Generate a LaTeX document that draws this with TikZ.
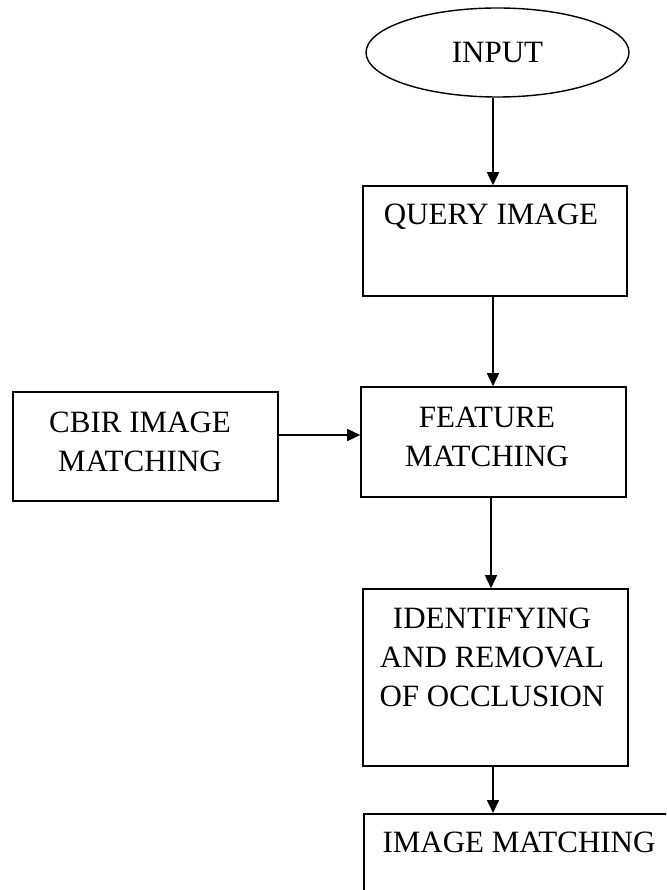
\documentclass[tikz,border=0pt]{standalone}
\usepackage{fontspec}
\setmainfont{Liberation Serif}
\usetikzlibrary{shapes.geometric,arrows.meta}

\tikzset{
  box/.style={draw, line width=1.6pt, rectangle, inner sep=0pt},
  oval/.style={draw, line width=1.4pt, ellipse, inner sep=0pt,
    minimum width=263pt, minimum height=89pt,
    font=\fontsize{31}{39}\selectfont},
  lbl/.style={inner sep=0pt, anchor=base,
    font=\fontsize{31}{39}\selectfont},
  arr/.style={line width=1.6pt, -{Triangle[width=12pt,length=13pt]}}
}

\newcommand{\lines}[1]{\setlength{\tabcolsep}{0pt}\begin{tabular}[t]{c}#1\end{tabular}}

\begin{document}
\begin{tikzpicture}[x=1pt,y=-1pt]
  \useasboundingbox (0,0) rectangle (666,890);
  \clip (0,0) rectangle (666,890);
  \fill[white] (0,0) rectangle (666,890);

  % flow of boxes
  \node[oval] (input) at (497.5,52.5) {INPUT};
  \node[box, minimum width=264pt, minimum height=110pt] (query) at (495,241) {};
  \node[box, minimum width=265pt, minimum height=110pt] (feature) at (493.5,442) {};
  \node[box, minimum width=265pt, minimum height=109pt] (cbir) at (145.5,446.5) {};
  \node[box, minimum width=265pt, minimum height=177pt] (ident) at (495.5,677.5) {};
  \node[box, anchor=north west, minimum width=330pt, minimum height=130pt] (imgmatch) at (363,813) {};

  % box captions
  \node[lbl] (querytxt) at (491,225) {\lines{QUERY IMAGE}};
  \node[lbl] (featuretxt) at (487,427) {\lines{FEATURE\\MATCHING}};
  \node[lbl] (cbirtxt) at (140,432) {\lines{CBIR IMAGE\\MATCHING}};
  \node[lbl] (identtxt) at (492,628) {\lines{IDENTIFYING\\AND REMOVAL\\OF OCCLUSION}};
  \node[lbl] (imgmatchtxt) at (519,852) {\lines{IMAGE MATCHING}};

  % connectors
  \draw[arr] ([xshift=-4.5pt]input.south) -- ([xshift=-2pt]query.north);
  \draw[arr] ([xshift=-2pt]query.south) -- ([xshift=-0.5pt]feature.north);
  \draw[arr] ([xshift=-2.5pt]feature.south) -- ([xshift=-2.5pt]feature.south |- ident.north);
  \draw[arr] ([xshift=-2.5pt]ident.south) -- ([xshift=-2.5pt]ident.south |- imgmatch.north);
  \draw[arr] ([yshift=11.5pt]cbir.east) -- ([yshift=11.5pt]cbir.east -| feature.west);
\end{tikzpicture}
\end{document}
